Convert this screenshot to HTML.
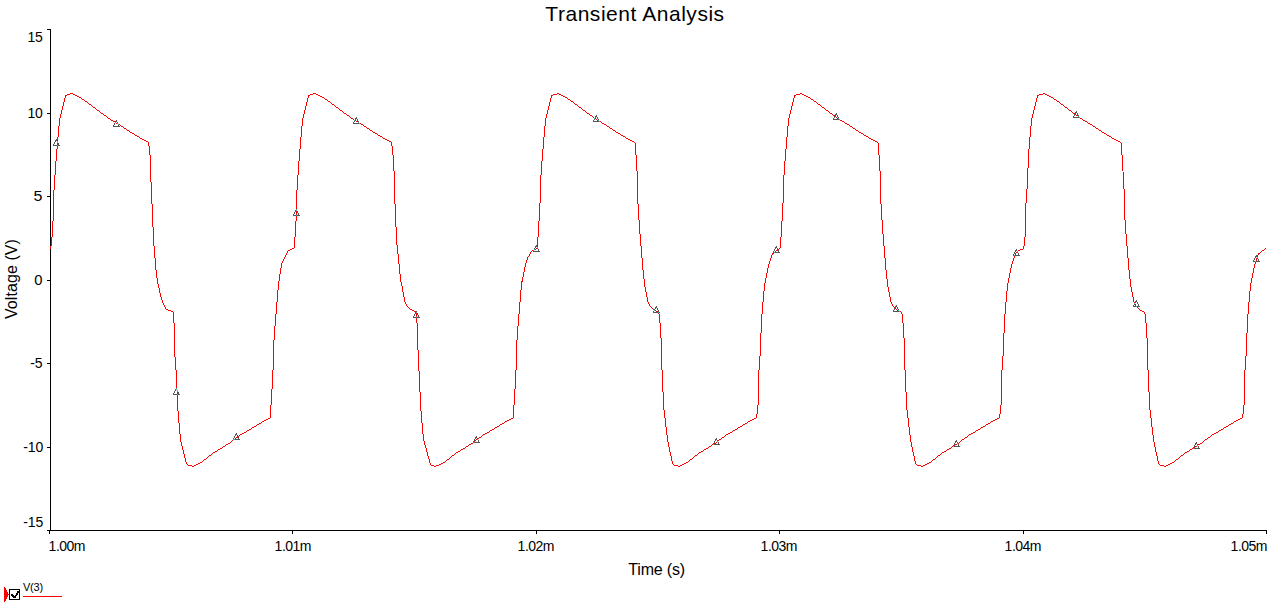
<!DOCTYPE html>
<html><head><meta charset="utf-8"><title>Transient Analysis</title>
<style>
html,body{margin:0;padding:0;background:#fff;width:1270px;height:608px;overflow:hidden}
svg{display:block}
text{font-family:"Liberation Sans",Arial,sans-serif;fill:#000}
</style></head><body>
<svg width="1270" height="608" viewBox="0 0 1270 608" shape-rendering="crispEdges">
<rect width="1270" height="608" fill="#fff"/>
<path d="M50 29h1v501h-1z M47 530h1220v1h-1220zM47 29h3v1h-3zM47 113h3v1h-3zM47 196h3v1h-3zM47 280h3v1h-3zM47 363h3v1h-3zM47 447h3v1h-3zM47 530h3v1h-3zM49 531h1v3h-1zM292 531h1v3h-1zM536 531h1v3h-1zM779 531h1v3h-1zM1023 531h1v3h-1zM1266 531h1v3h-1z" fill="#000"/>
<text x="545.3" y="20.5" font-size="21" textLength="178.82" lengthAdjust="spacing">Transient Analysis</text>
<text x="628.3" y="574.5" font-size="16" textLength="56.85" lengthAdjust="spacing">Time (s)</text>
<text transform="rotate(-90)" x="-319.0" y="16.5" font-size="16" textLength="79.91" lengthAdjust="spacing">Voltage (V)</text>
<text x="27.6" y="42.0" font-size="14" textLength="15.12" lengthAdjust="spacing">15</text>
<text x="27.6" y="118.0" font-size="14" textLength="15.12" lengthAdjust="spacing">10</text>
<text x="33.6" y="201.0" font-size="14" textLength="8.91" lengthAdjust="spacingAndGlyphs">5</text>
<text x="34.3" y="285.0" font-size="14" textLength="8.22" lengthAdjust="spacingAndGlyphs">0</text>
<text x="30.3" y="368.0" font-size="14" textLength="12.19" lengthAdjust="spacing">-5</text>
<text x="23.3" y="452.0" font-size="14" textLength="19.95" lengthAdjust="spacing">-10</text>
<text x="23.3" y="527.0" font-size="14" textLength="19.95" lengthAdjust="spacing">-15</text>
<text x="48.6" y="551.0" font-size="14" textLength="36.89" lengthAdjust="spacing">1.00m</text>
<text x="274.6" y="551.0" font-size="14" textLength="36.89" lengthAdjust="spacing">1.01m</text>
<text x="517.6" y="551.0" font-size="14" textLength="36.89" lengthAdjust="spacing">1.02m</text>
<text x="760.6" y="551.0" font-size="14" textLength="36.89" lengthAdjust="spacing">1.03m</text>
<text x="1004.6" y="551.0" font-size="14" textLength="36.89" lengthAdjust="spacing">1.04m</text>
<text x="1230.6" y="551.0" font-size="14" textLength="36.89" lengthAdjust="spacing">1.05m</text>
<text x="23.0" y="591.0" font-size="11" textLength="20.12" lengthAdjust="spacing">V(3)</text>
<path fill="#ff0000" d="M254 426h2v1h-2zM497 426h2v1h-2zM740 426h2v1h-2zM983 426h2v1h-2zM1226 426h2v1h-2zM264 420h2v1h-2zM507 420h2v1h-2zM750 420h2v1h-2zM993 420h2v1h-2zM1236 420h2v1h-2zM77 96h2v1h-2zM320 96h2v1h-2zM563 96h2v1h-2zM806 96h2v1h-2zM1049 96h2v1h-2zM65 95h2v1h-2zM75 95h2v1h-2zM308 95h2v1h-2zM318 95h2v1h-2zM551 95h2v1h-2zM561 95h2v1h-2zM794 95h2v1h-2zM804 95h2v1h-2zM1037 95h2v1h-2zM1047 95h2v1h-2zM85 101h2v1h-2zM328 101h2v1h-2zM571 101h2v1h-2zM814 101h2v1h-2zM1057 101h2v1h-2zM135 135h2v1h-2zM378 135h2v1h-2zM621 135h2v1h-2zM864 135h2v1h-2zM1107 135h2v1h-2zM292 248h2v1h-2zM215 451h2v1h-2zM458 451h2v1h-2zM701 451h2v1h-2zM944 451h2v1h-2zM1187 451h2v1h-2zM252 427h2v1h-2zM495 427h2v1h-2zM738 427h2v1h-2zM981 427h2v1h-2zM1224 427h2v1h-2zM101 113h2v1h-2zM344 113h2v1h-2zM587 113h2v1h-2zM830 113h2v1h-2zM1073 113h2v1h-2zM228 443h2v1h-2zM471 443h2v1h-2zM714 443h2v1h-2zM1200 443h2v1h-2zM137 136h2v1h-2zM380 136h2v1h-2zM623 136h2v1h-2zM866 136h2v1h-2zM1109 136h2v1h-2zM67 94h3v1h-3zM73 94h2v1h-2zM310 94h3v1h-3zM316 94h2v1h-2zM553 94h4v1h-4zM559 94h2v1h-2zM796 94h4v1h-4zM802 94h2v1h-2zM1039 94h4v1h-4zM1045 94h2v1h-2zM188 465h4v1h-4zM194 465h2v1h-2zM431 465h3v1h-3zM436 465h3v1h-3zM674 465h4v1h-4zM680 465h2v1h-2zM917 465h4v1h-4zM923 465h2v1h-2zM1160 465h4v1h-4zM1166 465h2v1h-2zM144 140h2v1h-2zM387 140h2v1h-2zM630 140h2v1h-2zM873 140h2v1h-2zM1116 140h2v1h-2zM209 455h2v1h-2zM452 455h2v1h-2zM695 455h2v1h-2zM938 455h2v1h-2zM1181 455h2v1h-2zM166 309h2v1h-2zM410 309h2v1h-2zM236 437h2v1h-2zM479 437h2v1h-2zM722 437h2v1h-2zM965 437h2v1h-2zM1208 437h2v1h-2zM218 449h2v1h-2zM461 449h2v1h-2zM704 449h2v1h-2zM947 449h2v1h-2zM1190 449h2v1h-2zM361 124h2v1h-2zM604 124h2v1h-2zM847 124h2v1h-2zM1090 124h2v1h-2zM124 128h2v1h-2zM367 128h2v1h-2zM610 128h2v1h-2zM853 128h2v1h-2zM1096 128h2v1h-2zM223 446h2v1h-2zM466 446h2v1h-2zM709 446h2v1h-2zM1195 446h2v1h-2zM240 434h2v1h-2zM483 434h2v1h-2zM726 434h2v1h-2zM969 434h2v1h-2zM1212 434h2v1h-2zM132 133h2v1h-2zM375 133h2v1h-2zM618 133h2v1h-2zM861 133h2v1h-2zM1104 133h2v1h-2zM521 281h2v1h-2zM146 141h2v1h-2zM389 141h2v1h-2zM632 141h2v1h-2zM875 141h2v1h-2zM1118 141h2v1h-2zM97 110h2v1h-2zM340 110h2v1h-2zM583 110h2v1h-2zM826 110h2v1h-2zM1069 110h2v1h-2zM220 448h2v1h-2zM463 448h2v1h-2zM706 448h2v1h-2zM949 448h2v1h-2zM262 421h2v1h-2zM505 421h2v1h-2zM748 421h2v1h-2zM991 421h2v1h-2zM1234 421h2v1h-2zM244 432h2v1h-2zM487 432h2v1h-2zM730 432h2v1h-2zM973 432h2v1h-2zM1216 432h2v1h-2zM198 463h2v1h-2zM441 463h2v1h-2zM684 463h2v1h-2zM927 463h2v1h-2zM1170 463h2v1h-2zM70 93h3v1h-3zM313 93h3v1h-3zM557 93h2v1h-2zM800 93h2v1h-2zM1043 93h2v1h-2zM113 121h2v1h-2zM356 121h2v1h-2zM842 121h2v1h-2zM1085 121h2v1h-2zM290 249h2v1h-2zM1020 249h3v1h-3zM249 429h2v1h-2zM492 429h2v1h-2zM735 429h2v1h-2zM978 429h2v1h-2zM1221 429h2v1h-2zM79 97h2v1h-2zM322 97h2v1h-2zM565 97h2v1h-2zM808 97h2v1h-2zM1051 97h2v1h-2zM772 253h2v1h-2zM1258 253h2v1h-2zM602 123h2v1h-2zM845 123h2v1h-2zM1088 123h2v1h-2zM93 107h2v1h-2zM336 107h2v1h-2zM579 107h2v1h-2zM822 107h2v1h-2zM1065 107h2v1h-2zM247 430h2v1h-2zM490 430h2v1h-2zM733 430h2v1h-2zM976 430h2v1h-2zM1219 430h2v1h-2zM127 130h2v1h-2zM370 130h2v1h-2zM613 130h2v1h-2zM856 130h2v1h-2zM1099 130h2v1h-2zM82 99h2v1h-2zM325 99h2v1h-2zM568 99h2v1h-2zM811 99h2v1h-2zM1054 99h2v1h-2zM204 459h2v1h-2zM447 459h2v1h-2zM690 459h2v1h-2zM933 459h2v1h-2zM1176 459h2v1h-2zM200 462h2v1h-2zM443 462h2v1h-2zM686 462h2v1h-2zM929 462h2v1h-2zM1172 462h2v1h-2zM268 418h2v1h-2zM511 418h2v1h-2zM754 418h2v1h-2zM997 418h2v1h-2zM1240 418h2v1h-2zM288 250h2v1h-2zM776 250h2v1h-2zM1018 250h2v1h-2zM1262 250h2v1h-2zM142 139h2v1h-2zM385 139h2v1h-2zM628 139h2v1h-2zM871 139h2v1h-2zM1114 139h2v1h-2zM140 138h2v1h-2zM383 138h2v1h-2zM626 138h2v1h-2zM869 138h2v1h-2zM1112 138h2v1h-2zM213 452h2v1h-2zM456 452h2v1h-2zM699 452h2v1h-2zM942 452h2v1h-2zM1185 452h2v1h-2zM121 126h2v1h-2zM364 126h2v1h-2zM607 126h2v1h-2zM850 126h2v1h-2zM1093 126h2v1h-2zM266 419h2v1h-2zM509 419h2v1h-2zM752 419h2v1h-2zM995 419h2v1h-2zM1238 419h2v1h-2zM108 118h2v1h-2zM351 118h2v1h-2zM1080 118h2v1h-2zM89 104h2v1h-2zM332 104h2v1h-2zM575 104h2v1h-2zM818 104h2v1h-2zM1061 104h2v1h-2zM719 439h2v1h-2zM962 439h2v1h-2zM1205 439h2v1h-2zM192 466h2v1h-2zM434 466h2v1h-2zM678 466h2v1h-2zM921 466h2v1h-2zM1164 466h2v1h-2zM257 424h2v1h-2zM500 424h2v1h-2zM743 424h2v1h-2zM986 424h2v1h-2zM1229 424h2v1h-2zM196 464h2v1h-2zM439 464h2v1h-2zM682 464h2v1h-2zM925 464h2v1h-2zM1168 464h2v1h-2zM104 115h2v1h-2zM347 115h2v1h-2zM590 115h2v1h-2zM833 115h2v1h-2zM1076 115h2v1h-2zM226 444h2v1h-2zM469 444h2v1h-2zM955 444h2v1h-2zM1198 444h2v1h-2zM168 310h3v1h-3zM412 310h2v1h-2zM1140 310h2v1h-2zM242 433h2v1h-2zM485 433h2v1h-2zM728 433h2v1h-2zM971 433h2v1h-2zM1214 433h2v1h-2zM171 311h2v1h-2zM414 311h2v1h-2zM656 311h2v1h-2zM1142 311h2v1h-2zM130 132h2v1h-2zM373 132h2v1h-2zM616 132h2v1h-2zM859 132h2v1h-2zM1102 132h2v1h-2zM259 423h2v1h-2zM502 423h2v1h-2zM745 423h2v1h-2zM988 423h2v1h-2zM1231 423h2v1h-2zM111 120h2v1h-2zM840 120h2v1h-2zM1083 120h2v1h-2zM54 175h1v15h-1zM151 182h1v22h-1zM297 175h1v15h-1zM394 171h1v33h-1zM540 175h1v28h-1zM637 171h1v33h-1zM783 175h1v28h-1zM880 171h1v33h-1zM1027 168h1v21h-1zM1123 172h1v17h-1zM50 246h1v3h-1zM154 246h1v12h-1zM294 237h1v11h-1zM397 245h1v9h-1zM641 246h1v12h-1zM780 237h1v11h-1zM884 246h1v12h-1zM1023 246h1v3h-1zM1127 246h1v12h-1zM52 221h1v16h-1zM152 204h1v23h-1zM295 221h1v16h-1zM395 204h1v23h-1zM538 221h1v16h-1zM639 220h1v14h-1zM781 221h1v16h-1zM882 220h1v14h-1zM1025 203h1v34h-1zM1125 220h1v14h-1zM155 258h1v12h-1zM280 268h1v6h-1zM399 264h1v10h-1zM524 267h1v5h-1zM642 258h1v12h-1zM767 268h1v5h-1zM885 258h1v12h-1zM1010 268h1v5h-1zM1128 258h1v12h-1zM1253 268h1v5h-1zM153 227h1v19h-1zM396 227h1v18h-1zM640 234h1v12h-1zM883 234h1v12h-1zM1126 234h1v12h-1zM57 137h1v4h-1zM57 143h1v2h-1zM57 146h1v3h-1zM148 142h1v4h-1zM300 137h1v12h-1zM391 142h1v4h-1zM543 137h1v12h-1zM635 143h1v12h-1zM786 137h1v12h-1zM878 143h1v12h-1zM1029 137h1v12h-1zM1121 143h1v12h-1zM179 423h1v11h-1zM422 423h1v11h-1zM665 418h1v9h-1zM908 418h1v9h-1zM1151 418h1v9h-1zM178 411h1v12h-1zM421 411h1v12h-1zM174 323h1v34h-1zM274 326h1v14h-1zM417 323h1v27h-1zM517 326h1v14h-1zM660 323h1v15h-1zM761 314h1v19h-1zM903 323h1v15h-1zM1004 314h1v19h-1zM1146 323h1v15h-1zM1247 314h1v19h-1zM184 454h1v4h-1zM207 457h1v1h-1zM428 456h1v3h-1zM450 457h1v1h-1zM671 456h1v5h-1zM693 457h1v1h-1zM914 456h1v5h-1zM936 457h1v1h-1zM1157 456h1v5h-1zM1179 457h1v1h-1zM634 142h1v1h-1zM877 142h1v1h-1zM1120 142h1v1h-1zM163 303h1v2h-1zM276 302h1v12h-1zM406 304h1v2h-1zM519 302h1v12h-1zM649 304h1v2h-1zM762 302h1v12h-1zM892 304h1v2h-1zM1005 302h1v12h-1zM1135 304h1v2h-1zM1248 302h1v12h-1zM158 284h1v4h-1zM278 281h1v9h-1zM402 286h1v6h-1zM521 282h1v8h-1zM645 287h1v5h-1zM764 283h1v8h-1zM888 287h1v5h-1zM1007 283h1v8h-1zM1131 287h1v5h-1zM1250 283h1v8h-1zM149 146h1v9h-1zM392 146h1v9h-1zM156 270h1v8h-1zM279 274h1v7h-1zM400 274h1v8h-1zM523 272h1v5h-1zM643 270h1v9h-1zM766 273h1v5h-1zM886 270h1v9h-1zM1009 273h1v5h-1zM1129 270h1v9h-1zM1252 273h1v5h-1zM53 190h1v31h-1zM296 190h1v19h-1zM296 211h1v4h-1zM296 216h1v5h-1zM539 203h1v18h-1zM782 203h1v18h-1zM1124 189h1v31h-1zM176 370h1v18h-1zM272 370h1v19h-1zM419 371h1v21h-1zM515 370h1v19h-1zM662 370h1v22h-1zM758 370h1v35h-1zM905 370h1v22h-1zM1001 370h1v35h-1zM1148 370h1v22h-1zM1244 370h1v35h-1zM281 263h1v5h-1zM525 263h1v4h-1zM768 264h1v4h-1zM1011 264h1v4h-1zM1254 264h1v4h-1zM271 389h1v16h-1zM514 389h1v16h-1zM159 288h1v5h-1zM277 290h1v12h-1zM403 292h1v5h-1zM520 290h1v12h-1zM646 292h1v5h-1zM763 291h1v11h-1zM889 292h1v5h-1zM1006 291h1v11h-1zM1132 292h1v5h-1zM1249 291h1v11h-1zM65 96h1v2h-1zM308 96h1v2h-1zM551 96h1v2h-1zM794 96h1v2h-1zM1037 96h1v2h-1zM56 149h1v12h-1zM150 155h1v27h-1zM299 149h1v12h-1zM393 155h1v16h-1zM542 149h1v12h-1zM636 155h1v16h-1zM785 149h1v12h-1zM879 155h1v16h-1zM1028 149h1v19h-1zM1122 155h1v16h-1zM64 98h1v4h-1zM307 98h1v4h-1zM550 98h1v4h-1zM793 98h1v4h-1zM1036 98h1v4h-1zM173 312h1v11h-1zM275 314h1v12h-1zM416 313h1v4h-1zM416 318h1v5h-1zM518 314h1v12h-1zM659 314h1v9h-1zM902 314h1v9h-1zM1145 314h1v9h-1zM180 434h1v8h-1zM238 436h1v1h-1zM423 434h1v7h-1zM481 436h1v1h-1zM667 435h1v7h-1zM724 436h1v1h-1zM910 435h1v7h-1zM967 436h1v1h-1zM1153 435h1v7h-1zM1210 436h1v1h-1zM58 126h1v11h-1zM123 127h1v1h-1zM301 126h1v11h-1zM366 127h1v1h-1zM544 126h1v11h-1zM609 127h1v1h-1zM787 126h1v11h-1zM852 127h1v1h-1zM1030 126h1v11h-1zM1095 127h1v1h-1zM181 442h1v4h-1zM230 442h1v1h-1zM424 441h1v4h-1zM668 442h1v5h-1zM716 442h1v1h-1zM911 442h1v5h-1zM959 442h1v1h-1zM1154 442h1v5h-1zM1202 442h1v1h-1zM164 305h1v2h-1zM407 306h1v1h-1zM650 306h1v1h-1zM893 306h1v1h-1zM232 440h1v1h-1zM475 440h1v1h-1zM718 440h1v1h-1zM961 440h1v1h-1zM1204 440h1v1h-1zM51 237h1v9h-1zM537 237h1v10h-1zM1024 237h1v9h-1zM175 357h1v13h-1zM273 340h1v30h-1zM418 350h1v21h-1zM516 340h1v30h-1zM661 338h1v32h-1zM759 356h1v14h-1zM904 338h1v32h-1zM1002 356h1v14h-1zM1147 338h1v32h-1zM1245 356h1v14h-1zM536 248h1v1h-1zM779 248h1v1h-1zM1265 248h1v1h-1zM183 450h1v4h-1zM426 448h1v4h-1zM669 447h1v5h-1zM912 447h1v5h-1zM1155 447h1v5h-1zM270 405h1v13h-1zM513 405h1v13h-1zM664 410h1v8h-1zM757 405h1v9h-1zM907 410h1v8h-1zM1000 405h1v9h-1zM1150 410h1v8h-1zM1243 405h1v9h-1zM666 427h1v8h-1zM909 427h1v8h-1zM1152 427h1v8h-1zM55 161h1v14h-1zM298 161h1v14h-1zM541 161h1v14h-1zM784 161h1v14h-1zM285 255h1v2h-1zM398 254h1v10h-1zM528 256h1v1h-1zM771 255h1v3h-1zM1014 256h1v2h-1zM1257 255h1v2h-1zM61 110h1v4h-1zM304 110h1v4h-1zM547 110h1v4h-1zM790 110h1v4h-1zM1033 110h1v4h-1zM958 443h1v1h-1zM177 392h1v2h-1zM177 395h1v16h-1zM420 392h1v19h-1zM663 392h1v18h-1zM906 392h1v18h-1zM1149 392h1v18h-1zM165 307h1v2h-1zM409 308h1v1h-1zM652 308h1v1h-1zM895 308h1v1h-1zM1138 308h1v1h-1zM283 259h1v2h-1zM527 257h1v3h-1zM770 258h1v3h-1zM1013 258h1v3h-1zM1256 258h1v3h-1zM1026 189h1v14h-1zM63 102h1v4h-1zM91 105h1v1h-1zM306 102h1v4h-1zM334 105h1v1h-1zM549 102h1v4h-1zM577 105h1v1h-1zM792 102h1v4h-1zM820 105h1v1h-1zM1035 102h1v4h-1zM1063 105h1v1h-1zM427 452h1v4h-1zM670 452h1v4h-1zM913 452h1v4h-1zM1156 452h1v4h-1zM60 114h1v4h-1zM107 117h1v1h-1zM303 114h1v4h-1zM350 117h1v1h-1zM546 114h1v4h-1zM593 117h1v1h-1zM789 114h1v4h-1zM836 117h1v1h-1zM1032 114h1v4h-1zM653 309h1v1h-1zM896 309h1v1h-1zM1139 309h1v1h-1zM638 204h1v16h-1zM881 204h1v16h-1zM84 100h1v1h-1zM327 100h1v1h-1zM570 100h1v1h-1zM813 100h1v1h-1zM1056 100h1v1h-1zM182 446h1v4h-1zM59 118h1v8h-1zM119 124h1v1h-1zM302 118h1v8h-1zM545 118h1v8h-1zM788 118h1v8h-1zM1031 118h1v8h-1zM161 297h1v3h-1zM404 297h1v5h-1zM647 297h1v5h-1zM890 297h1v5h-1zM1133 297h1v5h-1zM760 333h1v23h-1zM1003 333h1v23h-1zM1246 333h1v23h-1zM526 260h1v3h-1zM212 453h1v1h-1zM455 453h1v1h-1zM698 453h1v1h-1zM941 453h1v1h-1zM1184 453h1v1h-1zM162 300h1v3h-1zM425 445h1v3h-1zM952 446h1v1h-1zM157 278h1v6h-1zM522 277h1v4h-1zM644 279h1v8h-1zM765 278h1v5h-1zM887 279h1v8h-1zM1008 278h1v5h-1zM1130 279h1v8h-1zM1251 278h1v5h-1zM239 435h1v1h-1zM482 435h1v1h-1zM725 435h1v1h-1zM968 435h1v1h-1zM1211 435h1v1h-1zM756 414h1v4h-1zM999 414h1v4h-1zM1242 414h1v4h-1zM217 450h1v1h-1zM460 450h1v1h-1zM703 450h1v1h-1zM946 450h1v1h-1zM1189 450h1v1h-1zM1192 448h1v1h-1zM87 102h1v1h-1zM330 102h1v1h-1zM573 102h1v1h-1zM816 102h1v1h-1zM1059 102h1v1h-1zM88 103h1v1h-1zM331 103h1v1h-1zM574 103h1v1h-1zM817 103h1v1h-1zM1060 103h1v1h-1zM401 282h1v4h-1zM186 462h1v2h-1zM430 463h1v2h-1zM672 461h1v3h-1zM915 461h1v3h-1zM1158 461h1v3h-1zM600 121h1v1h-1zM287 251h1v2h-1zM531 251h1v1h-1zM775 251h1v1h-1zM1261 251h1v1h-1zM535 249h1v1h-1zM778 249h1v1h-1zM1264 249h1v1h-1zM185 458h1v4h-1zM202 461h1v1h-1zM429 459h1v4h-1zM445 461h1v1h-1zM688 461h1v1h-1zM931 461h1v1h-1zM1174 461h1v1h-1zM222 447h1v1h-1zM465 447h1v1h-1zM708 447h1v1h-1zM951 447h1v1h-1zM1194 447h1v1h-1zM286 253h1v2h-1zM530 252h1v2h-1zM1015 253h1v2h-1zM116 123h1v1h-1zM360 123h1v1h-1zM120 125h1v1h-1zM363 125h1v1h-1zM606 125h1v1h-1zM849 125h1v1h-1zM1092 125h1v1h-1zM62 106h1v4h-1zM305 106h1v4h-1zM548 106h1v4h-1zM791 106h1v4h-1zM1034 106h1v4h-1zM1016 252h1v1h-1zM1260 252h1v1h-1zM256 425h1v1h-1zM499 425h1v1h-1zM742 425h1v1h-1zM985 425h1v1h-1zM1228 425h1v1h-1zM251 428h1v1h-1zM494 428h1v1h-1zM737 428h1v1h-1zM980 428h1v1h-1zM1223 428h1v1h-1zM529 254h1v2h-1zM160 293h1v4h-1zM532 250h1v1h-1zM134 134h1v1h-1zM377 134h1v1h-1zM620 134h1v1h-1zM863 134h1v1h-1zM1106 134h1v1h-1zM206 458h1v1h-1zM449 458h1v1h-1zM692 458h1v1h-1zM935 458h1v1h-1zM1178 458h1v1h-1zM235 438h1v1h-1zM478 438h1v1h-1zM721 438h1v1h-1zM964 438h1v1h-1zM1207 438h1v1h-1zM595 118h1v1h-1zM837 118h1v1h-1zM203 460h1v1h-1zM446 460h1v1h-1zM689 460h1v1h-1zM932 460h1v1h-1zM1175 460h1v1h-1zM601 122h1v1h-1zM844 122h1v1h-1zM1087 122h1v1h-1zM476 439h1v1h-1zM208 456h1v1h-1zM451 456h1v1h-1zM694 456h1v1h-1zM937 456h1v1h-1zM1180 456h1v1h-1zM129 131h1v1h-1zM372 131h1v1h-1zM615 131h1v1h-1zM858 131h1v1h-1zM1101 131h1v1h-1zM405 302h1v2h-1zM648 302h1v2h-1zM891 302h1v2h-1zM110 119h1v1h-1zM353 119h1v1h-1zM596 119h1v1h-1zM1082 119h1v1h-1zM100 112h1v1h-1zM343 112h1v1h-1zM586 112h1v1h-1zM829 112h1v1h-1zM1072 112h1v1h-1zM103 114h1v1h-1zM346 114h1v1h-1zM589 114h1v1h-1zM832 114h1v1h-1zM1075 114h1v1h-1zM408 307h1v1h-1zM651 307h1v1h-1zM894 307h1v1h-1zM1137 307h1v1h-1zM187 464h1v1h-1zM673 464h1v1h-1zM916 464h1v1h-1zM1159 464h1v1h-1zM261 422h1v1h-1zM504 422h1v1h-1zM747 422h1v1h-1zM990 422h1v1h-1zM1233 422h1v1h-1zM92 106h1v1h-1zM335 106h1v1h-1zM578 106h1v1h-1zM821 106h1v1h-1zM1064 106h1v1h-1zM712 444h1v1h-1zM284 257h1v2h-1zM225 445h1v1h-1zM468 445h1v1h-1zM711 445h1v1h-1zM954 445h1v1h-1zM655 310h1v1h-1zM897 310h1v1h-1zM282 261h1v2h-1zM769 261h1v3h-1zM1012 261h1v3h-1zM99 111h1v1h-1zM342 111h1v1h-1zM585 111h1v1h-1zM828 111h1v1h-1zM1071 111h1v1h-1zM139 137h1v1h-1zM382 137h1v1h-1zM625 137h1v1h-1zM868 137h1v1h-1zM1111 137h1v1h-1zM900 311h1v1h-1zM246 431h1v1h-1zM489 431h1v1h-1zM732 431h1v1h-1zM975 431h1v1h-1zM1218 431h1v1h-1zM1255 262h1v2h-1zM1134 302h1v1h-1zM772 254h1v1h-1zM1258 254h1v1h-1zM126 129h1v1h-1zM369 129h1v1h-1zM612 129h1v1h-1zM855 129h1v1h-1zM1098 129h1v1h-1zM96 109h1v1h-1zM339 109h1v1h-1zM582 109h1v1h-1zM825 109h1v1h-1zM1068 109h1v1h-1zM211 454h1v1h-1zM454 454h1v1h-1zM697 454h1v1h-1zM940 454h1v1h-1zM1183 454h1v1h-1zM231 441h1v1h-1zM474 441h1v1h-1zM960 441h1v1h-1zM1203 441h1v1h-1zM355 120h1v1h-1zM597 120h1v1h-1zM901 312h1v2h-1zM1144 312h1v2h-1zM106 116h1v1h-1zM349 116h1v1h-1zM592 116h1v1h-1zM835 116h1v1h-1zM658 313h1v1h-1zM95 108h1v1h-1zM338 108h1v1h-1zM581 108h1v1h-1zM824 108h1v1h-1zM1067 108h1v1h-1zM81 98h1v1h-1zM324 98h1v1h-1zM567 98h1v1h-1zM810 98h1v1h-1zM1053 98h1v1h-1z"/>
<path fill="#555555" d="M474 442h6v1h-6zM1253 261h2v1h-2zM1256 261h4v1h-4zM475 437h2v1h-2zM1195 443h2v1h-2zM835 114h2v1h-2zM235 439h5v1h-5zM715 439h2v1h-2zM113 126h7v1h-7zM1073 117h6v1h-6zM775 252h5v1h-5zM353 123h6v1h-6zM895 306h2v1h-2zM1133 306h3v1h-3zM1137 306h3v1h-3zM655 307h2v1h-2zM1075 112h2v1h-2zM775 247h2v1h-2zM1194 448h6v1h-6zM714 444h6v1h-6zM293 215h3v1h-3zM297 215h3v1h-3zM954 446h6v1h-6zM1015 250h2v1h-2zM53 145h4v1h-4zM58 145h2v1h-2zM413 317h3v1h-3zM417 317h3v1h-3zM173 394h4v1h-4zM178 394h2v1h-2zM893 311h6v1h-6zM55 140h2v1h-2zM653 312h5v1h-5zM1015 255h5v1h-5zM355 118h2v1h-2zM533 251h7v1h-7zM115 121h2v1h-2zM593 121h6v1h-6zM235 434h2v1h-2zM595 116h2v1h-2zM1255 256h2v1h-2zM833 119h6v1h-6zM955 441h2v1h-2zM1135 301h2v1h-2zM535 246h2v1h-2zM714 441h1v2h-1zM718 442h1v2h-1zM955 442h1v1h-1zM957 442h1v1h-1zM1196 442h1v1h-1zM173 393h1v1h-1zM178 392h1v2h-1zM474 439h1v2h-1zM478 440h1v2h-1zM715 440h1v1h-1zM717 440h1v1h-1zM956 440h1v1h-1zM234 436h1v2h-1zM238 437h1v2h-1zM294 212h1v2h-1zM298 213h1v2h-1zM836 113h1v1h-1zM1075 113h1v1h-1zM1077 113h1v2h-1zM534 248h1v1h-1zM537 248h1v1h-1zM775 248h1v1h-1zM777 248h1v2h-1zM596 115h1v1h-1zM835 115h1v1h-1zM837 115h1v2h-1zM1074 114h1v2h-1zM1078 115h1v1h-1zM1014 252h1v2h-1zM1018 253h1v2h-1zM713 443h1v1h-1zM954 443h1v2h-1zM356 117h1v1h-1zM595 117h1v1h-1zM597 117h1v2h-1zM834 116h1v2h-1zM838 117h1v1h-1zM1254 258h1v2h-1zM1258 259h1v2h-1zM1134 304h1v1h-1zM1138 304h1v2h-1zM773 251h1v2h-1zM1017 252h1v1h-1zM114 123h1v2h-1zM116 120h1v1h-1zM357 119h1v2h-1zM593 120h1v1h-1zM656 306h1v1h-1zM174 391h1v2h-1zM895 307h1v1h-1zM897 307h1v2h-1zM654 309h1v1h-1zM657 308h1v2h-1zM894 308h1v2h-1zM898 309h1v1h-1zM237 435h1v2h-1zM476 436h1v1h-1zM297 211h1v2h-1zM535 247h1v1h-1zM958 444h1v2h-1zM1195 444h1v1h-1zM1197 444h1v1h-1zM233 438h1v1h-1zM475 438h1v1h-1zM477 438h1v1h-1zM716 438h1v1h-1zM1194 445h1v2h-1zM1198 446h1v2h-1zM1135 302h1v1h-1zM1137 302h1v2h-1zM538 249h1v2h-1zM774 249h1v2h-1zM778 250h1v2h-1zM655 308h1v1h-1zM117 122h1v1h-1zM353 122h1v1h-1zM416 311h1v1h-1zM653 311h1v1h-1zM658 310h1v2h-1zM415 312h1v2h-1zM659 312h1v1h-1zM1193 447h1v1h-1zM1013 254h1v2h-1zM1256 255h1v1h-1zM833 118h1v1h-1zM953 445h1v1h-1zM1016 249h1v1h-1zM1015 251h1v1h-1zM354 121h1v1h-1zM358 121h1v1h-1zM295 210h1v2h-1zM1073 116h1v1h-1zM1136 300h1v1h-1zM54 142h1v2h-1zM58 143h1v2h-1zM414 314h1v2h-1zM418 315h1v2h-1zM355 119h1v1h-1zM594 119h1v1h-1zM598 119h1v1h-1zM417 313h1v2h-1zM53 144h1v1h-1zM293 214h1v1h-1zM413 316h1v1h-1zM1253 260h1v1h-1zM473 441h1v1h-1zM113 125h1v1h-1zM118 125h1v1h-1zM1257 258h1v1h-1zM175 389h1v2h-1zM235 435h1v1h-1zM776 246h1v1h-1zM1076 111h1v1h-1zM56 139h1v1h-1zM896 305h1v1h-1zM1133 305h1v1h-1zM236 433h1v1h-1zM893 310h1v1h-1zM55 141h1v1h-1zM1255 257h1v1h-1zM536 245h1v1h-1z"/>
<path fill="#55aaaa" d="M233 439h2v1h-2zM477 439h1v1h-1zM1255 261h1v1h-1zM115 122h1v1h-1zM358 122h1v1h-1zM177 390h1v2h-1zM177 394h1v1h-1zM594 118h1v1h-1zM838 118h1v1h-1zM654 310h1v1h-1zM898 310h1v1h-1zM1079 117h1v1h-1zM1134 303h1v1h-1zM713 444h1v1h-1zM117 123h1v1h-1zM359 123h1v1h-1zM176 388h1v2h-1zM57 141h1v2h-1zM57 145h1v1h-1zM1017 251h1v1h-1zM899 311h1v1h-1zM1136 306h1v1h-1zM953 446h1v1h-1zM296 209h1v2h-1zM296 215h1v1h-1zM118 124h1v1h-1zM717 441h1v1h-1zM774 252h1v1h-1zM534 249h1v1h-1zM1014 255h1v1h-1zM1257 257h1v1h-1zM354 120h1v1h-1zM598 120h1v1h-1zM416 312h1v1h-1zM416 317h1v1h-1zM658 312h1v1h-1zM839 119h1v1h-1zM1078 116h1v1h-1zM1197 445h1v1h-1zM533 250h1v1h-1zM957 443h1v1h-1zM1193 448h1v1h-1zM537 247h1v1h-1zM599 121h1v1h-1zM473 442h1v1h-1z"/>
<path fill="#ff0000" d="M4 587h1v15h-1zM5 588h1v13h-1zM6 590h1v9h-1zM7 592h1v5h-1zM8 594h1v1h-1z"/>
<path fill="#000" d="M9 589h11v1h-11zM9 599h11v1h-11zM9 590h1v9h-1zM19 590h1v9h-1z"/>
<path fill="#000" d="M17 591h2v1h-2zM17 592h2v1h-2zM16 593h2v1h-2zM11 594h2v1h-2zM16 594h2v1h-2zM11 595h3v1h-3zM15 595h2v1h-2zM12 596h4v1h-4zM13 597h3v1h-3z"/>
<path fill="#ff0000" d="M23 596h39v1h-39z"/>
</svg>
</body></html>
